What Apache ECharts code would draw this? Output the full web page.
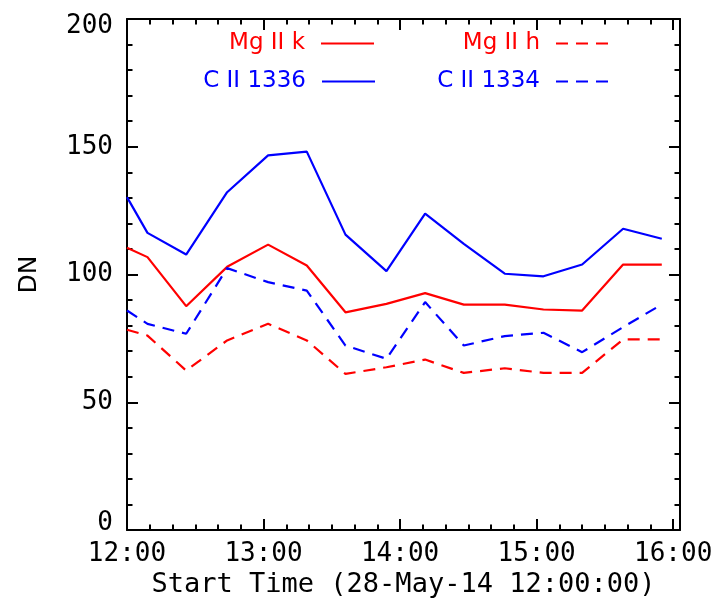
<!DOCTYPE html>
<html>
<head>
<meta charset="utf-8">
<style>
  html, body { margin: 0; padding: 0; background: #ffffff; }
  #chart { width: 718px; height: 604px; }
</style>
<script src="https://cdn.jsdelivr.net/npm/echarts@6/dist/echarts.min.js"></script>
</head>
<body>
<div id="chart"></div>
<script>
// Observation start times (28-May-2014)
const times = ["12:00", "12:09", "12:26", "12:44", "13:02", "13:19", "13:36", "13:54",
               "14:11", "14:28", "14:46", "15:03", "15:20", "15:38", "15:55"];

// Line intensities in DN
const mgIIk   = [110.5, 106.8, 87.6, 103.0, 111.7, 103.5, 85.2, 88.5, 92.7, 88.2, 88.2, 86.3, 85.9, 103.9, 103.9];
const mgIIh   = [78.4, 76.1, 62.4, 74.2, 80.7, 74.2, 61.1, 63.7, 66.7, 61.5, 63.3, 61.5, 61.5, 74.6, 74.6];
const cII1336 = [130.3, 116.3, 107.8, 132.2, 146.6, 148.1, 115.6, 101.3, 123.8, 112.0, 100.3, 99.3, 103.9, 117.9, 114.0];
const cII1334 = [85.9, 80.7, 76.8, 102.5, 97.0, 93.7, 72.2, 67.0, 89.2, 72.2, 75.9, 77.2, 69.6, 79.4, 88.3];

// Axis tick labels
const xTickLabels = ["12:00", "13:00", "14:00", "15:00", "16:00"];
const yTickLabels = ["0", "50", "100", "150", "200"];

const MONO = "DejaVu Sans Mono";
const SANS = "DejaVu Sans";
const START = "12:00";

function toMinutes(t) {
  const [h, m] = t.split(":").map(Number);
  const [h0, m0] = START.split(":").map(Number);
  return (h - h0) * 60 + (m - m0);
}

function pairs(values) {
  return times.map((t, i) => [toMinutes(t), values[i]]);
}

const xMax = 243;           // axis runs a few minutes past 16:00
const yMax = 200;
const tickStyle = { show: true, inside: true, length: 11, lineStyle: { color: "#000", width: 2 } };
const minorStyle = { show: true, length: 5.5, lineStyle: { color: "#000", width: 2 } };
const axisLine = { show: true, onZero: false, lineStyle: { color: "#000", width: 2 } };

function xLabel(v) {
  if (v % 60 !== 0) return "";
  return xTickLabels[v / 60] || "";
}
// monospaced labels padded to a common width so their right edges line up
const yLabelWidth = Math.max(...yTickLabels.map(s => s.length));
function yLabel(v) {
  if (v % 50 !== 0) return "";
  return (yTickLabels[v / 50] || "").padStart(yLabelWidth, " ");
}

const RED = "#ff0000";
const BLUE = "#0000ff";
const DASH = [12, 8];
const LW = 2.2;

function legendFor(name, color, right, top) {
  return {
    data: [{ name: name, textStyle: { color: color } }],
    right: right, top: top,
    padding: 0,
    align: "right",
    itemWidth: 53, itemHeight: 2,
    selectedMode: false,
    itemStyle: { opacity: 0 },
    textStyle: { fontFamily: SANS, fontSize: 23, color: color, padding: [0, 11, 0, 0] }
  };
}

const chart = echarts.init(document.getElementById("chart"), null, { renderer: "canvas" });

chart.setOption({
  backgroundColor: "#ffffff",
  animation: false,
  grid: { left: 127, right: 38, top: 19, bottom: 74, containLabel: false, outerBoundsMode: "none" },
  legend: [
    legendFor("Mg II k", RED, 343, 32),
    legendFor("C II 1336", BLUE, 342, 70),
    legendFor("Mg II h", RED, 108, 32),
    legendFor("C II 1334", BLUE, 108, 70)
  ],
  xAxis: [
    {
      type: "value", position: "bottom", min: 0, max: xMax, interval: 60,
      name: "Start Time (28-May-14 12:00:00)", nameLocation: "middle", nameGap: 40,
      nameTextStyle: { fontFamily: MONO, fontSize: 27, color: "#000" },
      axisLine: axisLine, axisTick: tickStyle,
      minorTick: Object.assign({ splitNumber: 6 }, minorStyle),
      axisLabel: { show: true, formatter: xLabel, margin: 11, showMaxLabel: false,
                   fontFamily: MONO, fontSize: 26, color: "#000" },
      splitLine: { show: false }
    },
    {
      type: "value", position: "top", min: 0, max: xMax, interval: 60,
      axisLine: axisLine, axisTick: tickStyle,
      minorTick: Object.assign({ splitNumber: 6 }, minorStyle),
      axisLabel: { show: false }, splitLine: { show: false }
    }
  ],
  yAxis: [
    {
      type: "value", position: "left", min: 0, max: yMax, interval: 50,
      name: "DN", nameLocation: "middle", nameGap: 85, nameRotate: 90,
      nameTextStyle: { fontFamily: SANS, fontSize: 25, color: "#000" },
      axisLine: axisLine, axisTick: tickStyle,
      minorTick: Object.assign({ splitNumber: 5 }, minorStyle),
      axisLabel: {
        show: true, formatter: yLabel, margin: 14, align: "right",
        fontFamily: MONO, fontSize: 26, lineHeight: 14, color: "#000",
        // end labels sit just inside the frame height
        verticalAlignMinLabel: "bottom",
        verticalAlignMaxLabel: "top"
      },
      splitLine: { show: false }
    },
    {
      type: "value", position: "right", min: 0, max: yMax, interval: 50,
      axisLine: axisLine, axisTick: tickStyle,
      minorTick: Object.assign({ splitNumber: 5 }, minorStyle),
      axisLabel: { show: false }, splitLine: { show: false }
    }
  ],
  series: [
    { name: "Mg II k", type: "line", data: pairs(mgIIk), symbol: "none",
      lineStyle: { color: RED, width: LW }, itemStyle: { color: RED } },
    { name: "C II 1336", type: "line", data: pairs(cII1336), symbol: "none",
      lineStyle: { color: BLUE, width: LW }, itemStyle: { color: BLUE } },
    { name: "Mg II h", type: "line", data: pairs(mgIIh), symbol: "none",
      lineStyle: { color: RED, width: LW, type: DASH }, itemStyle: { color: RED } },
    { name: "C II 1334", type: "line", data: pairs(cII1334), symbol: "none",
      lineStyle: { color: BLUE, width: LW, type: DASH }, itemStyle: { color: BLUE } }
  ]
});
</script>
</body>
</html>
